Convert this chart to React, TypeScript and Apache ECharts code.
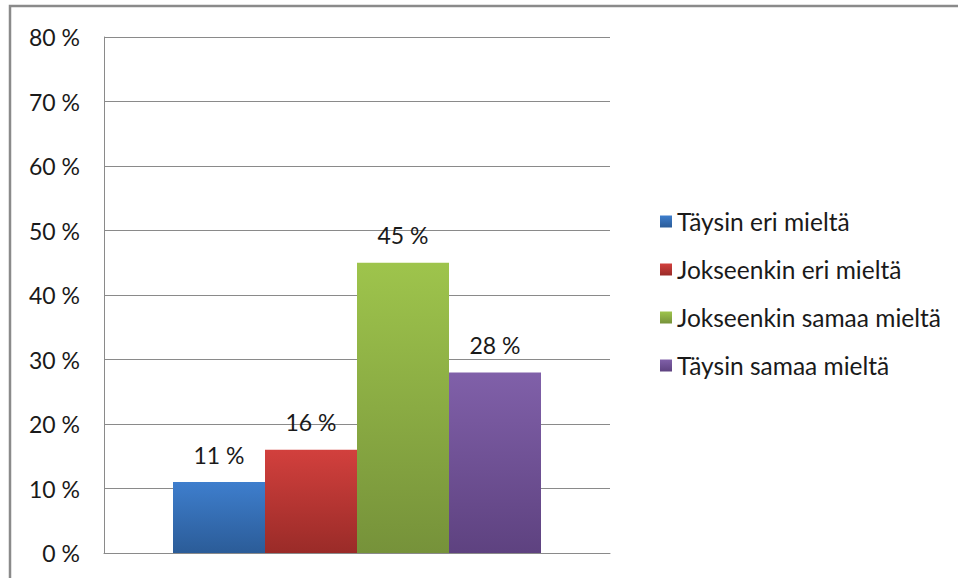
import React, { useEffect, useRef } from "react";
import * as echarts from "echarts";

const categories = [""];
const seriesNames = [
  "Täysin eri mieltä",
  "Jokseenkin eri mieltä",
  "Jokseenkin samaa mieltä",
  "Täysin samaa mieltä",
];
const seriesValues = [11, 16, 45, 28];
const gradTop = ["#3e7ecd", "#d2403d", "#9ec44c", "#8060a9"];
const gradBottom = ["#2b5c98", "#9a2b28", "#76923a", "#5e4280"];
const yTicks = { min: 0, max: 80, interval: 10 };

const FONT = "Lato";

export default function App() {
  const ref = useRef<HTMLDivElement>(null);
  useEffect(() => {
    const chart = echarts.init(ref.current!, null, { renderer: "svg" });
    chart.setOption({
      animation: false,
      backgroundColor: "#ffffff",
      textStyle: { fontFamily: FONT },
      graphic: [
        {
          type: "rect",
          shape: { x: 10, y: 6, width: 1000, height: 1000 },
          style: { fill: "none", stroke: "#8a8a8a", lineWidth: 2.5 },
          z: 100,
        },
      ],
      grid: { left: 104, top: 37, width: 506, height: 516, containLabel: false },
      legend: {
        orient: "vertical",
        left: 655,
        top: 204,
        itemWidth: 12,
        itemHeight: 12,
        itemGap: 23,
        icon: "rect",
        data: seriesNames,
        textStyle: { fontFamily: FONT, fontSize: 24.5, color: "#1a1a1a" },
      },
      xAxis: {
        type: "category",
        data: categories,
        axisLine: { show: true, lineStyle: { color: "#8a8a8a", width: 1 } },
        axisTick: { show: false },
        axisLabel: { show: false },
      },
      yAxis: {
        type: "value",
        min: yTicks.min,
        max: yTicks.max,
        interval: yTicks.interval,
        axisLine: { show: true, lineStyle: { color: "#8a8a8a", width: 1 } },
        axisTick: { show: false },
        splitLine: { show: true, lineStyle: { color: "#8a8a8a", width: 1 } },
        axisLabel: {
          margin: 24,
          fontFamily: FONT,
          fontSize: 23,
          color: "#1a1a1a",
          formatter: (v: number) => `${v} %`,
        },
      },
      series: seriesNames.map((name, i) => ({
        name,
        type: "bar",
        data: [seriesValues[i]],
        barWidth: 92,
        barGap: "0%",
        itemStyle: {
          color: new echarts.graphic.LinearGradient(0, 0, 0, 1, [
            { offset: 0, color: gradTop[i] },
            { offset: 1, color: gradBottom[i] },
          ]),
        },
        label: {
          show: true,
          position: "top",
          distance: 16,
          fontFamily: FONT,
          fontSize: 23,
          color: "#1a1a1a",
          formatter: (p: any) => `${p.value} %`,
        },
      })),
    });
    return () => chart.dispose();
  }, []);
  return (
    <div
      ref={ref}
      style={{ position: "fixed", left: 0, top: 0, width: 958, height: 578 }}
    />
  );
}
